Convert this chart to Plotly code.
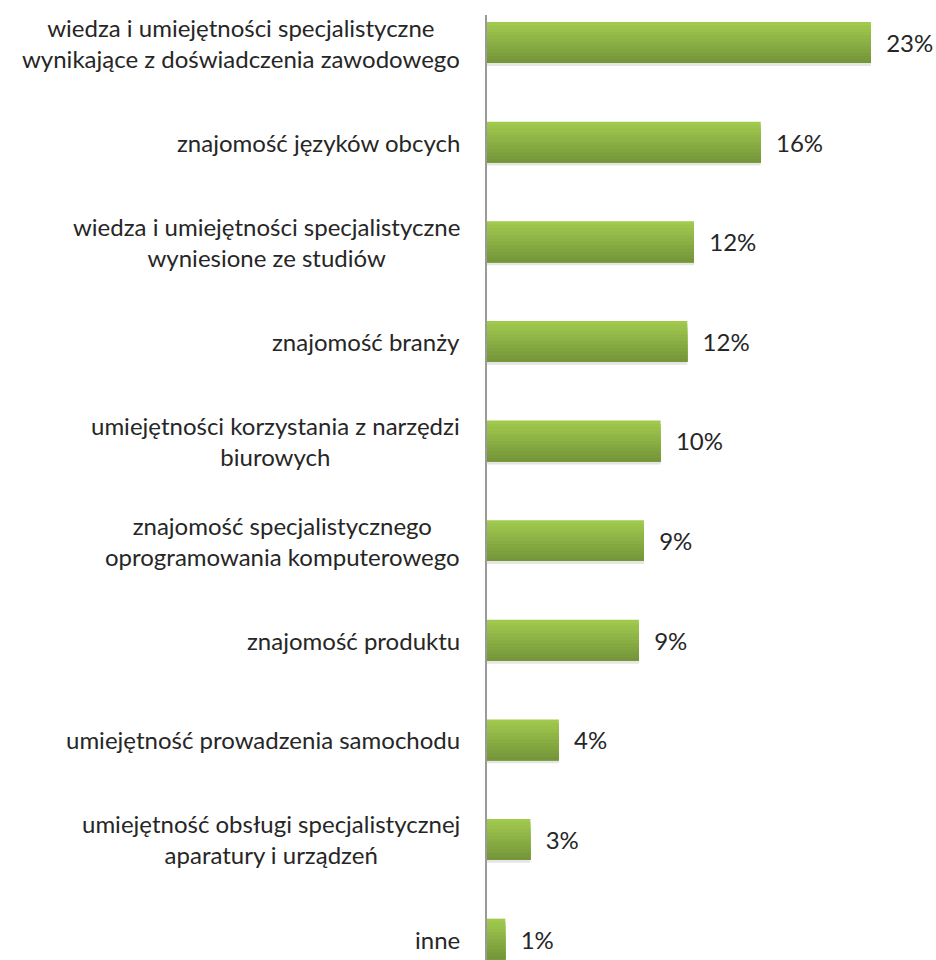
import plotly.graph_objects as go

# Skill categories (top to bottom) and share of responses in percent
categories = [
    "wiedza i umiejętności specjalistyczne<br>wynikające z doświadczenia zawodowego",
    "znajomość języków obcych",
    "wiedza i umiejętności specjalistyczne<br>wyniesione ze studiów",
    "znajomość branży",
    "umiejętności korzystania z narzędzi<br>biurowych",
    "znajomość specjalistycznego<br>oprogramowania komputerowego",
    "znajomość produktu",
    "umiejętność prowadzenia samochodu",
    "umiejętność obsługi specjalistycznej<br>aparatury i urządzeń",
    "inne",
]
values = [23.0, 16.4, 12.4, 12.0, 10.4, 9.4, 9.1, 4.3, 2.6, 1.1]

positions = list(range(len(categories)))

BAR_W = 0.41
TOP_RGB = (160, 201, 78)
BOT_RGB = (118, 150, 58)
N_BANDS = 12
FONT = "Lato, sans-serif"
TEXT_COLOR = "#262626"

fig = go.Figure()

# soft shadow under each bar
fig.add_trace(go.Bar(
    x=values, y=positions, orientation="h",
    width=0.035, offset=BAR_W / 2 - 0.005,
    marker=dict(color="rgba(0,0,0,0.10)", line=dict(width=0)),
    hoverinfo="skip", showlegend=False,
))

# vertical gradient: each band runs from its own top edge down to the bar
# bottom, so later (darker) bands cover the lower part of earlier ones
for i in range(N_BANDS):
    t = i / (N_BANDS - 1)
    r, g, b = (round(TOP_RGB[k] + (BOT_RGB[k] - TOP_RGB[k]) * t) for k in range(3))
    top = -BAR_W / 2 + i * BAR_W / N_BANDS
    fig.add_trace(go.Bar(
        x=values, y=positions, orientation="h",
        width=BAR_W / 2 - top,
        offset=top,
        marker=dict(color=f"rgb({r},{g},{b})", line=dict(width=0)),
        hoverinfo="skip", showlegend=False,
    ))

# value labels
fig.add_trace(go.Bar(
    x=values, y=positions, orientation="h",
    width=BAR_W, offset=-BAR_W / 2,
    marker=dict(color="rgba(0,0,0,0)", line=dict(width=0)),
    texttemplate="  %{x:.0f}%", textposition="outside",
    outsidetextfont=dict(family=FONT, size=24, color=TEXT_COLOR),
    cliponaxis=False, hoverinfo="skip", showlegend=False,
))

# category labels, centred lines, right edge next to the axis
for pos, label in zip(positions, categories):
    fig.add_annotation(
        x=0, xref="paper", y=pos, yref="y",
        text=label, showarrow=False, align="center",
        xanchor="right", yanchor="middle", xshift=-25,
        font=dict(family=FONT, size=24, color=TEXT_COLOR),
    )

fig.update_layout(
    width=936, height=960,
    margin=dict(l=487, r=0, t=15, b=0),
    paper_bgcolor="white", plot_bgcolor="white",
    barmode="overlay",
    xaxis=dict(range=[0, 26.9], visible=False, fixedrange=True),
    yaxis=dict(
        range=[9.21, -0.276], showticklabels=False, showgrid=False,
        zeroline=False, showline=True, linecolor="#9a9a9a", linewidth=1.5,
        ticks="", fixedrange=True,
    ),
)

fig.write_html("out.html")
